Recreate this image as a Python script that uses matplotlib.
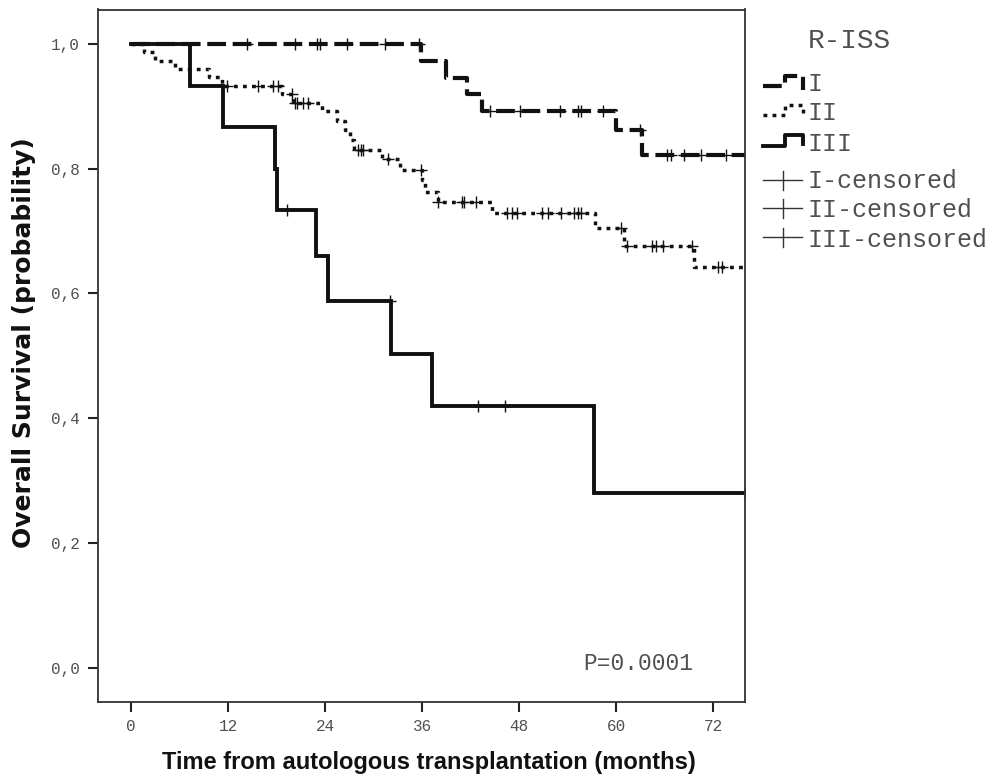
import numpy as np
import matplotlib
matplotlib.use("Agg")
import matplotlib.pyplot as plt
from matplotlib.lines import Line2D

# Kaplan-Meier curves (time in months, survival probability)
end_time = 76.0

times_1 = [35.8, 38.9, 41.5, 43.4, 59.9, 63.2]
surv_1 = [0.973, 0.946, 0.919, 0.892, 0.862, 0.822]
cens_1 = [14.3, 20.3, 23.0, 23.3, 26.7, 31.4, 35.6, 44.4, 48.1, 53.0, 55.3, 55.6,
          58.3, 62.9, 66.3, 66.8, 68.4, 70.4, 73.5]

times_2 = [1.6, 2.9, 5.4, 9.6, 11.2, 18.7, 20.0, 23.6, 25.4, 26.5, 27.1, 27.5,
           31.0, 33.3, 36.0, 36.3, 37.9, 44.6, 57.4, 61.0, 69.6]
surv_2 = [0.987, 0.973, 0.960, 0.947, 0.933, 0.920, 0.905, 0.892, 0.877, 0.862,
          0.846, 0.830, 0.815, 0.798, 0.781, 0.763, 0.747, 0.729, 0.704, 0.676, 0.643]
cens_2 = [11.8, 15.7, 17.6, 18.2, 19.9, 20.2, 20.5, 21.2, 21.9, 28.1, 28.4, 28.7,
          31.8, 35.8, 38.0, 40.9, 41.2, 42.6, 46.5, 47.1, 47.7, 50.8, 51.6, 53.1,
          54.7, 55.2, 55.6, 60.6, 61.3, 64.4, 64.9, 65.7, 69.4, 72.5, 73.0]

times_3 = [7.3, 11.4, 17.8, 18.0, 22.8, 24.4, 32.1, 37.2, 57.2]
surv_3 = [0.933, 0.867, 0.800, 0.733, 0.660, 0.587, 0.503, 0.420, 0.280]
cens_3 = [19.3, 32.0, 42.9, 46.2, 75.9]

xticks = [0, 12, 24, 36, 48, 60, 72]
yticks = [0.0, 0.2, 0.4, 0.6, 0.8, 1.0]
ytick_labels = ["0,0", "0,2", "0,4", "0,6", "0,8", "1,0"]
legend_labels = ["I", "II", "III", "I-censored", "II-censored", "III-censored"]

W, H = 1004, 777
fig = plt.figure(figsize=(W / 100, H / 100), dpi=100)
ax = fig.add_axes([98 / W, 1 - 702 / H, 647 / W, 692.5 / H])

mono = "Liberation Mono"
ink = "#111111"
grey = "#505050"


def km_line(times, surv):
    x = [0.0] + list(times) + [end_time]
    y = [1.0] + list(surv) + [surv[-1]]
    return x, y


def surv_at(times, surv, t):
    idx = np.searchsorted(times, t, side="right")
    vals = np.concatenate([[1.0], surv])
    return vals[idx]


styles = {
    "1": dict(lw=3.0, ls=(0, (4.5, 1.6)), dash_capstyle="butt"),
    "2": dict(lw=2.5, ls=(0, (1.1, 1.5)), dash_capstyle="butt"),
    "3": dict(lw=2.8, ls="-"),
}

for key, times, surv, cens in [("3", times_3, surv_3, cens_3),
                                ("2", times_2, surv_2, cens_2),
                                ("1", times_1, surv_1, cens_1)]:
    x, y = km_line(times, surv)
    ax.step(x, y, where="post", color=ink, solid_joinstyle="miter", **styles[key])
    cy = surv_at(np.array(times), np.array(surv), np.array(cens))
    ax.plot(cens, cy, ls="none", marker="+", ms=8, mew=1.0, color=ink)

ax.set_xlim(-4.1, 75.9)
ax.set_ylim(-0.055, 1.055)
ax.set_xticks(xticks)
ax.set_xticklabels([str(t) for t in xticks])
ax.set_yticks(yticks)
ax.set_yticklabels(ytick_labels)
ax.tick_params(length=7.5, width=1.5, color="#222222", labelsize=11.5,
               labelcolor=grey)
ax.tick_params(axis="y", pad=5.5)
ax.tick_params(axis="x", pad=5)
for lab in ax.get_xticklabels() + ax.get_yticklabels():
    lab.set_fontfamily(mono)
for sp in ax.spines.values():
    sp.set_linewidth(1.3)
    sp.set_color("#333333")

ax.text(55.9, 0.006, "P=0.0001", fontsize=16.5, family=mono, color=grey,
        ha="left", va="center")

# axis titles
fig.text(428.5 / W, 1 - 762 / H, "Time from autologous transplantation (months)",
         fontsize=17, fontweight="bold", family="Liberation Sans", color=ink,
         ha="center", va="center")
fig.text(24 / W, 1 - 342.5 / H, "Overall Survival (probability)",
         fontsize=18, fontweight="bold", family="DejaVu Sans", color=ink,
         ha="center", va="center", rotation=90)


# legend drawn in pixel positions of the figure
def px(x, y):
    return x / W, 1 - y / H


fig.text(*px(808, 48), "R-ISS", fontsize=20, family=mono, color=grey,
         va="baseline")

icons = [
    ([763, 785, 785, 803, 803], [86, 86, 76, 76, 90], styles["1"]),
    ([763, 785, 785, 803, 803], [115, 115, 105, 105, 118], styles["2"]),
    ([763, 785, 785, 803, 803], [146, 146, 135, 135, 144], styles["3"]),
]
for xs, ys, st in icons:
    fx = [v / W for v in xs]
    fy = [1 - v / H for v in ys]
    fig.add_artist(Line2D(fx, fy, color=ink, transform=fig.transFigure, **st))

base_y = [91, 120, 151, 188, 217, 247]
for lab, by in zip(legend_labels, base_y):
    fig.text(*px(808, by), lab, fontsize=18, family=mono, color=grey,
             va="baseline")

for cy in [180, 208, 237]:
    fig.add_artist(Line2D([763 / W, 802 / W], [1 - cy / H] * 2, lw=1.0,
                          color="#333333", transform=fig.transFigure))
    fig.add_artist(Line2D([783 / W] * 2, [1 - (cy - 9) / H, 1 - (cy + 10) / H],
                          lw=1.0, color="#333333", transform=fig.transFigure))

fig.savefig("out.png", dpi=100)
